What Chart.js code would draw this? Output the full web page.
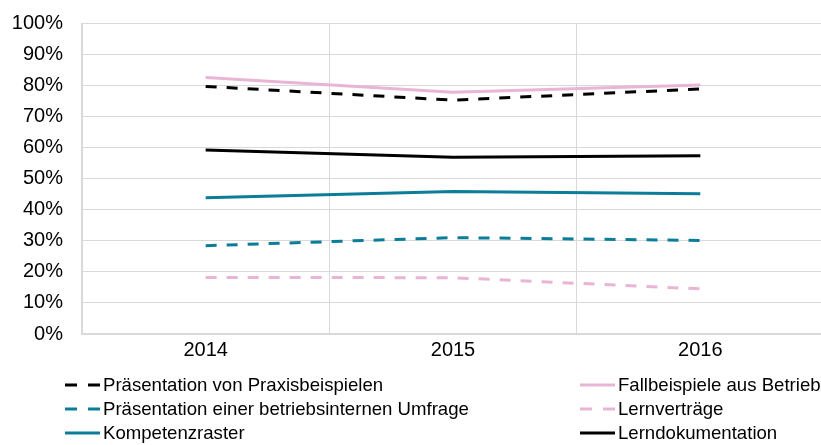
<!DOCTYPE html>
<html>
<head>
<meta charset="utf-8">
<script src="https://cdn.jsdelivr.net/npm/chart.js@4/dist/chart.umd.min.js"></script>
<style>
	html, body { margin: 0; padding: 0; background: #fff; overflow: hidden; }
	#wrap { position: relative; width: 830px; height: 445px; }
</style>
</head>
<body>
<div id="wrap"><canvas id="chart"></canvas></div>
<script>
const years = ['2014', '2015', '2016'];

const praxisbeispiele = [79.6, 75.2, 78.8];
const fallbeispiele = [82.5, 77.7, 80.1];
const umfrage = [28.4, 31.0, 30.1];
const lernvertraege = [18.2, 18.1, 14.5];
const kompetenzraster = [43.8, 45.8, 45.1];
const lerndokumentation = [59.2, 56.8, 57.3];

const yTicks = [0, 10, 20, 30, 40, 50, 60, 70, 80, 90, 100];

const black = '#000000',
	teal = '#0b7d99',
	pink = '#e9b5d5',
	dash = [11, 10];

const series = [
	{ label: 'Präsentation von Praxisbeispielen', data: praxisbeispiele, color: black, dash },
	{ label: 'Fallbeispiele aus Betrieben', data: fallbeispiele, color: pink, dash: [] },
	{ label: 'Präsentation einer betriebsinternen Umfrage', data: umfrage, color: teal, dash },
	{ label: 'Lernverträge', data: lernvertraege, color: pink, dash },
	{ label: 'Kompetenzraster', data: kompetenzraster, color: teal, dash: [] },
	{ label: 'Lerndokumentation', data: lerndokumentation, color: black, dash: [] }
];

const font = { family: '"Liberation Sans", Arial, sans-serif', size: 20 };

// two column legend under the plot, rows filled left to right
const sideLegend = {
	id: 'sideLegend',
	afterDraw(chart) {
		const c = chart.ctx,
			top = chart.chartArea.bottom + 51,
			cols = [65, 580];
		c.save();
		c.font = '18.6px "Liberation Sans", Arial, sans-serif';
		c.textBaseline = 'middle';
		c.fillStyle = '#000';
		chart.data.datasets.forEach((ds, i) => {
			const x = cols[i % 2],
				y = top + Math.floor(i / 2) * 24;
			c.beginPath();
			c.strokeStyle = ds.borderColor;
			c.lineWidth = 3;
			c.setLineDash(ds.borderDash.length ? [12, 11] : []);
			c.moveTo(x, y);
			c.lineTo(x + 35, y);
			c.stroke();
			c.setLineDash([]);
			c.fillText(ds.label, x + 38, y + 1);
		});
		c.restore();
	}
};

new Chart(document.getElementById('chart'), {
	type: 'line',
	data: {
		labels: years,
		datasets: series.map(s => ({
			label: s.label,
			data: s.data,
			borderColor: s.color,
			backgroundColor: s.color,
			borderDash: s.dash,
			borderWidth: 3,
			pointRadius: 0,
			tension: 0
		}))
	},
	options: {
		responsive: true,
		maintainAspectRatio: false,
		animation: false,
		layout: { padding: { top: 23, right: 6, bottom: 81, left: 0 } },
		plugins: { legend: { display: false }, tooltip: { enabled: false } },
		scales: {
			x: {
				offset: true,
				grid: { offset: true, color: '#d9d9d9', lineWidth: 1, drawTicks: false },
				border: { color: '#d9d9d9', width: 2 },
				ticks: { color: '#000', font, padding: 4 },
				afterFit: s => { s.height = 30; }
			},
			y: {
				min: 0,
				max: 100,
				afterBuildTicks: s => { s.ticks = yTicks.map(v => ({ value: v })); },
				grid: { color: '#d9d9d9', lineWidth: 1, drawTicks: false },
				border: { color: '#d9d9d9', width: 1 },
				ticks: { color: '#000', font, padding: 19, callback: v => v + '%' },
				afterFit: s => {
					s.width = 82;
					s.paddingTop = 0;
					s.paddingBottom = 0;
				}
			}
		}
	},
	plugins: [sideLegend]
});
</script>
</body>
</html>
